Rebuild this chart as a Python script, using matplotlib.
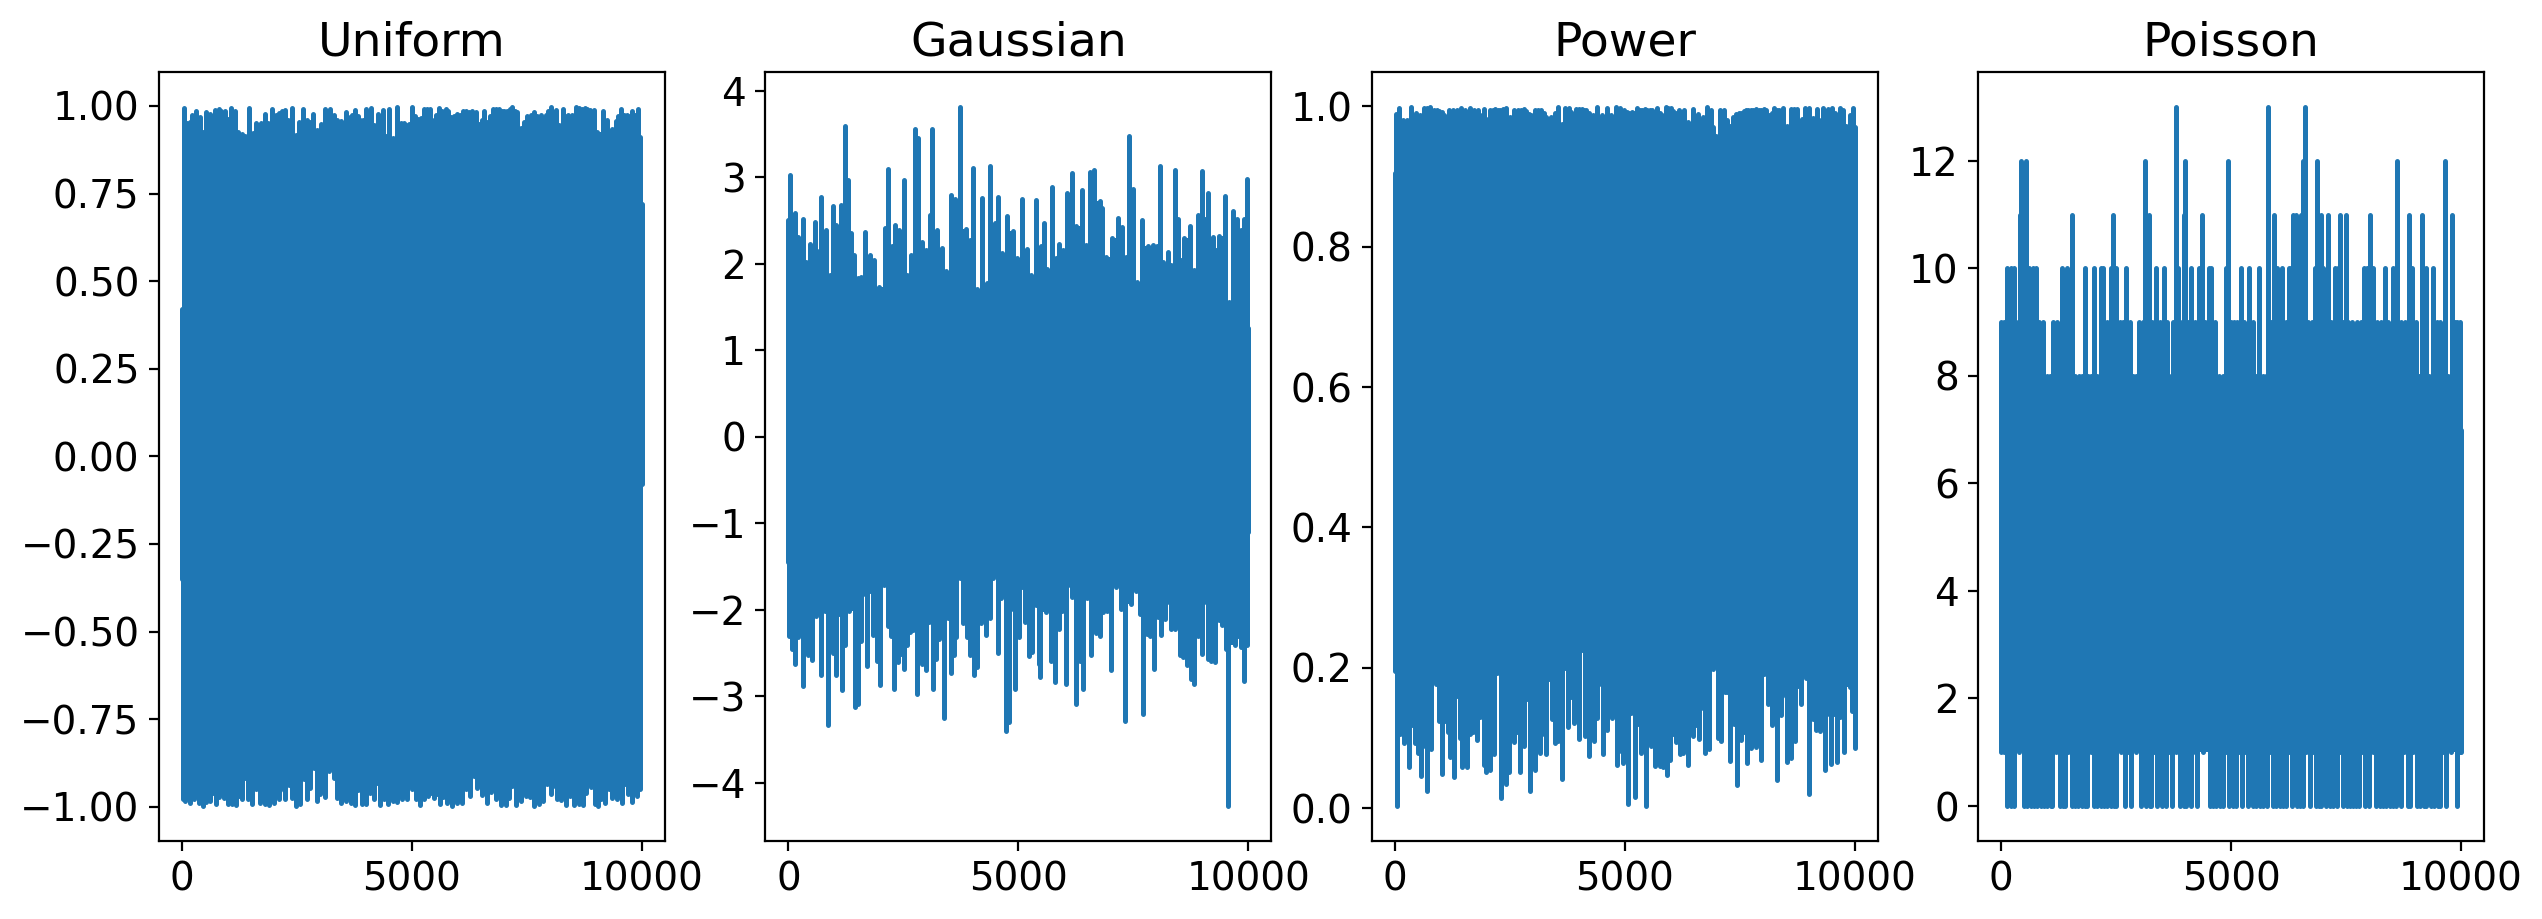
import numpy as np
import matplotlib
matplotlib.use("Agg")
import matplotlib.pyplot as plt

titles = ["Uniform", "Gaussian", "Power", "Poisson"]

# outline of each noise trace as (sample index, value)
uniform_hi = [(0,.42),(36,.995),(109,.95),(181,.954),(225,.975),(312,.986),(385,.969),(457,.926),(523,.983),(617,.978),(711,.988),(798,.990),(856,.986),(943,.985),(994,.964),(1074,.994),(1161,.986),(1219,.926),(1306,.921),(1379,.914),(1459,.995),(1538,.924),(1618,.950),(1720,.952),(1814,.978),(1880,.950),(1959,.991),(2039,.973),(2119,.981),(2177,.985),(2235,.988),(2308,.959),(2395,.994),(2475,.916),(2547,.954),(2634,.991),(2721,.959),(2787,.955),(2852,.978),(2939,.931),(3026,.947),(3106,.991),(3208,.991),(3302,.973),(3375,.959),(3462,.956),(3556,.983),(3643,.969),(3708,.975),(3773,.988),(3830,.97),(3882,.959),(3940,.96),(3991,.992),(4050,.975),(4115,.994),(4180,.945),(4260,.978),(4361,.988),(4427,.914),(4492,.991),(4594,.907),(4681,.997),(4768,.95),(4820,.95),(4877,.945),(4940,.948),(5007,.997),(5070,.97),(5138,.964),(5200,.965),(5261,.991),(5326,.99),(5392,.991),(5479,.959),(5530,.975),(5588,.994),(5660,.985),(5733,.991),(5795,.985),(5856,.969),(5920,.97),(5987,.978),(6050,.975),(6110,.985),(6175,.985),(6241,.983),(6315,.985),(6386,.983),(6459,.947),(6515,.96),(6568,.985),(6640,.953),(6705,.97),(6771,.992),(6830,.992),(6894,.992),(6950,.985),(7003,.985),(7065,.985),(7125,.99),(7184,.996),(7240,.985),(7293,.983),(7380,.937),(7445,.955),(7511,.972),(7585,.975),(7656,.983),(7730,.97),(7801,.975),(7838,.916),(7910,.973),(7970,.985),(8034,.997),(8135,.988),(8200,.945),(8288,.992),(8340,.97),(8397,.973),(8480,.975),(8563,.997),(8630,.995),(8695,.99),(8759,.995),(8815,.99),(8875,.988),(8962,.988),(9035,.926),(9158,.985),(9253,.959),(9347,.933),(9434,.956),(9490,.97),(9543,.992),(9610,.975),(9673,.973),(9735,.97),(9797,.985),(9860,.975),(9920,.992),(9960,.912),(9999,.72)]
uniform_lo = [(0,-.35),(15,-.979),(73,-.984),(167,-.990),(269,-.979),(363,-.988),(450,-.997),(530,-.986),(617,-.984),(675,-.960),(740,-.993),(813,-.972),(849,-.946),(907,-.974),(994,-.991),(1089,-.991),(1125,-.965),(1183,-.996),(1248,-.969),(1306,-.977),(1372,-.919),(1430,-.977),(1524,-.991),(1618,-.950),(1705,-.990),(1807,-.991),(1887,-.995),(1996,-.988),(2105,-.979),(2213,-.953),(2250,-.977),(2329,-.938),(2395,-.974),(2482,-.997),(2576,-.993),(2649,-.922),(2721,-.979),(2794,-.946),(2866,-.889),(2939,-.984),(3012,-.965),(3120,-.972),(3200,-.898),(3251,-.834),(3302,-.917),(3375,-.976),(3462,-.988),(3556,-.984),(3665,-.988),(3759,-.995),(3832,-.952),(3904,-.993),(4006,-.993),(4078,-.960),(4173,-.977),(4238,-.931),(4303,-.996),(4390,-.979),(4478,-.991),(4586,-.984),(4681,-.986),(4790,-.979),(4898,-.979),(5007,-.950),(5080,-.979),(5174,-.996),(5261,-.979),(5348,-.969),(5406,-.960),(5479,-.976),(5551,-.965),(5609,-.991),(5682,-.972),(5769,-.988),(5864,-.998),(5987,-.988),(6096,-.988),(6168,-.950),(6255,-.969),(6350,-.912),(6422,-.946),(6531,-.967),(6626,-.988),(6713,-.957),(6821,-.979),(6930,-.996),(7039,-.996),(7112,-.974),(7184,-.941),(7257,-.996),(7366,-.984),(7475,-.969),(7569,-.972),(7656,-.998),(7765,-.993),(7859,-.984),(7946,-.936),(8034,-.965),(8106,-.941),(8164,-.979),(8251,-.982),(8345,-.996),(8433,-.969),(8527,-.996),(8636,-.991),(8730,-.996),(8795,-.960),(8904,-.944),(8977,-.991),(9057,-.998),(9122,-.979),(9202,-.988),(9289,-.950),(9361,-.974),(9470,-.979),(9579,-.988),(9637,-.934),(9703,-.965),(9797,-.986),(9891,-.969),(9960,-.950),(9999,-.08)]

gaussian_hi = [(0,2.5),(36,3.02),(138,2.59),(210,2.31),(312,2.52),(384,2.02),(464,2.23),(572,2.48),(630,2.14),(710,2.77),(819,2.39),(898,1.87),(978,2.66),(1036,2.45),(1138,2.68),(1225,3.59),(1297,2.97),(1355,2.35),(1427,2.10),(1514,1.83),(1572,1.85),(1659,2.37),(1775,2.10),(1869,2.04),(1978,1.73),(2094,2.41),(2174,3.09),(2246,2.20),(2311,2.45),(2406,2.39),(2507,2.97),(2587,1.87),(2659,2.10),(2753,3.55),(2826,3.45),(2898,2.25),(2993,2.16),(3072,2.56),(3130,3.55),(3239,2.39),(3340,2.18),(3420,1.91),(3529,2.79),(3630,2.75),(3739,3.81),(3855,2.40),(3942,2.27),(4014,3.11),(4108,1.71),(4210,2.76),(4311,1.77),(4384,3.13),(4485,2.47),(4565,2.77),(4645,2.12),(4761,2.55),(4884,2.38),(4964,2.06),(5080,2.75),(5195,2.17),(5268,1.87),(5377,2.74),(5485,2.20),(5558,2.47),(5630,1.94),(5732,2.89),(5811,2.06),(5877,2.23),(5963,2.16),(6065,2.81),(6159,3.05),(6253,2.43),(6391,2.85),(6471,2.21),(6558,3.06),(6652,3.08),(6768,2.72),(6811,2.64),(6906,2.08),(7036,2.30),(7159,2.53),(7246,2.42),(7333,2.08),(7406,3.48),(7500,2.86),(7572,1.79),(7695,2.50),(7811,2.20),(7934,2.22),(8007,2.20),(8079,3.13),(8152,2.02),(8203,1.71),(8261,2.13),(8326,1.98),(8398,3.08),(8471,2.52),(8529,2.04),(8601,2.30),(8731,2.43),(8818,1.93),(8905,2.56),(8985,3.07),(9065,2.52),(9130,2.81),(9224,2.31),(9290,2.16),(9362,2.32),(9492,2.78),(9579,1.56),(9673,2.61),(9753,2.51),(9833,2.39),(9905,2.52),(9970,2.98),(9999,1.25)]
gaussian_lo = [(0,-1.45),(14,-2.30),(87,-2.45),(138,-2.63),(210,-2.32),(312,-2.88),(377,-2.34),(428,-2.52),(514,-2.58),(594,-2.07),(717,-2.76),(790,-2.01),(870,-3.33),(971,-2.50),(1043,-2.75),(1109,-2.05),(1167,-2.93),(1239,-2.41),(1312,-2.01),(1449,-3.12),(1522,-3.09),(1572,-2.36),(1630,-1.82),(1710,-2.65),(1775,-1.79),(1833,-2.29),(1898,-2.20),(1935,-2.59),(2000,-2.87),(2080,-1.72),(2167,-2.19),(2224,-2.30),(2297,-2.92),(2384,-2.61),(2442,-2.51),(2514,-2.69),(2572,-2.41),(2645,-2.26),(2717,-2.24),(2804,-2.97),(2906,-2.63),(2993,-2.70),(3065,-2.14),(3145,-2.92),(3210,-2.57),(3282,-2.34),(3391,-3.25),(3478,-2.10),(3543,-2.73),(3601,-2.53),(3652,-2.32),(3725,-1.64),(3804,-2.16),(3877,-2.32),(3949,-2.52),(4036,-2.76),(4108,-2.66),(4181,-2.16),(4304,-2.29),(4384,-2.10),(4456,-1.64),(4558,-2.50),(4630,-1.87),(4739,-3.40),(4797,-3.30),(4848,-1.99),(4927,-2.92),(5014,-2.32),(5072,-1.74),(5145,-2.14),(5232,-2.54),(5304,-2.49),(5377,-1.95),(5449,-2.63),(5478,-2.78),(5594,-2.03),(5703,-2.59),(5797,-2.84),(5884,-2.22),(5956,-2.01),(6043,-2.86),(6116,-1.72),(6174,-1.85),(6246,-3.09),(6333,-2.59),(6413,-2.92),(6485,-1.87),(6587,-2.52),(6681,-2.27),(6768,-2.30),(6847,-2.03),(6920,-2.01),(7022,-2.70),(7116,-1.74),(7224,-1.99),(7326,-3.29),(7456,-1.93),(7550,-1.78),(7645,-2.05),(7710,-3.21),(7804,-2.28),(7862,-2.30),(7956,-2.69),(8036,-2.09),(8108,-2.29),(8181,-2.11),(8224,-1.91),(8311,-2.22),(8398,-2.22),(8507,-2.53),(8587,-2.55),(8659,-2.64),(8746,-2.80),(8826,-2.86),(8913,-2.30),(8992,-2.51),(9072,-1.91),(9123,-2.57),(9195,-2.59),(9282,-2.60),(9362,-2.12),(9435,-2.18),(9507,-2.45),(9565,-4.27),(9703,-2.41),(9768,-2.30),(9833,-2.43),(9898,-2.82),(9975,-2.41),(9999,-1.1)]

power_hi = [(0,.905),(22,.989),(94,.998),(174,.981),(262,.980),(349,.999),(407,.975),(465,.991),(538,.987),(625,.997),(698,.998),(770,.999),(843,.995),(916,.994),(970,.993),(1025,.992),(1076,.987),(1170,.995),(1264,.995),(1352,.994),(1446,.998),(1533,.994),(1628,.998),(1715,.995),(1802,.994),(1860,.987),(1933,.996),(1991,.982),(2078,.994),(2133,.995),(2187,.996),(2240,.995),(2296,.995),(2360,.996),(2427,.998),(2500,.984),(2587,.994),(2682,.994),(2745,.995),(2805,.996),(2860,.993),(2914,.989),(2965,.988),(3059,.995),(3120,.995),(3183,.995),(3240,.99),(3292,.984),(3386,.984),(3474,.991),(3554,.999),(3626,.975),(3692,.998),(3786,.998),(3840,.992),(3895,.989),(3950,.996),(4004,.996),(4060,.996),(4113,.995),(4165,.994),(4222,.991),(4309,.987),(4389,.999),(4455,.975),(4513,.987),(4607,.998),(4695,.988),(4804,.999),(4898,.998),(4985,.994),(5040,.992),(5094,.991),(5150,.992),(5203,.991),(5276,.998),(5330,.995),(5385,.994),(5440,.996),(5494,.995),(5550,.995),(5603,.994),(5697,.998),(5760,.99),(5821,.987),(5894,.999),(5950,.997),(6003,.998),(6060,.993),(6112,.991),(6184,.994),(6240,.992),(6293,.994),(6380,.977),(6475,.996),(6584,.989),(6640,.98),(6693,.984),(6787,.999),(6875,.994),(6930,.97),(6984,.958),(7078,.994),(7165,.995),(7230,.98),(7296,.972),(7360,.985),(7420,.989),(7475,.99),(7529,.991),(7585,.993),(7638,.995),(7690,.995),(7747,.994),(7800,.995),(7856,.996),(7910,.994),(7965,.994),(8020,.996),(8074,.994),(8146,.987),(8200,.99),(8255,.997),(8310,.995),(8364,.994),(8452,.998),(8524,.972),(8619,.996),(8685,.996),(8750,.996),(8851,.982),(8924,.997),(9018,.998),(9105,.983),(9186,.996),(9258,.980),(9309,.998),(9418,.996),(9505,.998),(9578,.991),(9672,.997),(9745,.994),(9818,.972),(9890,.987),(9963,.998),(9999,.97)]
power_lo = [(0,.55),(12,.196),(44,.003),(116,.106),(196,.093),(298,.059),(378,.119),(429,.093),(494,.079),(560,.046),(618,.089),(705,.025),(785,.084),(843,.205),(894,.177),(952,.124),(1017,.049),(1090,.124),(1148,.109),(1199,.073),(1279,.044),(1359,.160),(1424,.100),(1468,.058),(1570,.059),(1642,.105),(1700,.109),(1780,.097),(1860,.130),(1940,.062),(1991,.052),(2078,.054),(2151,.077),(2216,.193),(2311,.014),(2420,.034),(2493,.052),(2587,.094),(2652,.108),(2725,.052),(2820,.089),(2878,.155),(2943,.024),(3045,.055),(3147,.079),(3205,.105),(3285,.077),(3350,.184),(3408,.127),(3488,.093),(3554,.095),(3634,.042),(3699,.199),(3757,.115),(3822,.158),(3895,.122),(4004,.099),(4070,.225),(4128,.103),(4215,.074),(4331,.096),(4404,.129),(4476,.177),(4527,.077),(4622,.112),(4724,.128),(4767,.148),(4825,.062),(4883,.082),(4963,.065),(5065,.006),(5145,.136),(5225,.016),(5290,.120),(5363,.078),(5472,.003),(5574,.089),(5654,.060),(5705,.146),(5770,.060),(5843,.058),(5915,.047),(5988,.069),(6046,.106),(6112,.094),(6199,.077),(6264,.079),(6315,.184),(6381,.061),(6475,.103),(6540,.119),(6606,.099),(6693,.142),(6751,.079),(6831,.084),(6925,.198),(7020,.100),(7100,.096),(7173,.165),(7216,.166),(7296,.067),(7383,.120),(7434,.033),(7536,.097),(7601,.109),(7659,.065),(7747,.086),(7856,.087),(7914,.150),(7972,.068),(8037,.191),(8110,.149),(8212,.119),(8306,.040),(8401,.133),(8430,.160),(8524,.066),(8619,.072),(8713,.096),(8771,.174),(8837,.149),(8938,.185),(9004,.020),(9098,.127),(9164,.112),(9244,.110),(9302,.134),(9353,.054),(9433,.134),(9484,.063),(9549,.134),(9622,.066),(9680,.130),(9774,.080),(9890,.172),(9949,.138),(9999,.085)]

poisson_hi = [(0,9),(65,9),(130,10),(203,10),(268,10),(326,9),(406,11),(435,12),(493,10),(543,12),(601,10),(688,10),(761,10),(826,9),(906,9),(993,8),(1065,8),(1123,9),(1210,9),(1312,10),(1370,9),(1435,10),(1485,9),(1536,11),(1609,8),(1688,8),(1761,8),(1811,10),(1884,8),(1956,8),(2022,10),(2080,8),(2159,10),(2210,10),(2297,9),(2384,10),(2435,11),(2493,10),(2587,9),(2645,9),(2703,10),(2790,9),(2855,8),(2927,8),(3007,9),(3080,9),(3116,12),(3203,11),(3275,9),(3369,10),(3457,9),(3543,10),(3601,9),(3659,8),(3732,9),(3790,13),(3840,10),(3891,9),(3971,11),(4007,12),(4065,9),(4137,10),(4217,9),(4297,10),(4377,11),(4442,9),(4514,10),(4572,10),(4652,9),(4746,8),(4833,8),(4891,10),(4927,12),(4992,9),(5065,9),(5138,9),(5225,10),(5290,9),(5384,10),(5471,9),(5536,8),(5616,10),(5688,8),(5753,8),(5811,13),(5869,9),(5934,11),(5992,10),(6050,9),(6116,10),(6188,9),(6253,10),(6310,10),(6355,11),(6413,11),(6463,10),(6514,11),(6572,12),(6608,13),(6681,9),(6753,9),(6825,10),(6876,12),(6949,11),(7007,10),(7108,11),(7166,9),(7261,10),(7318,10),(7369,11),(7442,9),(7500,11),(7550,9),(7623,9),(7674,8),(7746,9),(7819,9),(7898,10),(7963,10),(8014,11),(8079,10),(8166,9),(8261,9),(8347,10),(8420,9),(8522,10),(8608,12),(8688,9),(8782,9),(8869,11),(8942,10),(9021,9),(9094,8),(9145,11),(9239,10),(9297,8),(9398,10),(9471,9),(9543,9),(9659,12),(9724,8),(9804,11),(9869,9),(9920,9),(9978,9),(9999,7)]
poisson_lo = [(0,1),(50,1),(130,0),(203,0),(283,0),(384,1),(493,0),(565,0),(638,0),(710,0),(783,0),(855,0),(927,0),(1000,0),(1072,0),(1109,0),(1188,1),(1268,0),(1341,0),(1384,0),(1456,1),(1529,0),(1601,0),(1674,0),(1746,0),(1819,0),(1869,0),(1942,1),(2014,0),(2087,0),(2159,0),(2232,0),(2304,0),(2377,0),(2449,0),(2500,0),(2594,1),(2696,0),(2761,1),(2826,0),(2927,1),(3036,0),(3101,1),(3159,0),(3232,0),(3268,0),(3319,1),(3384,0),(3442,1),(3500,0),(3594,0),(3645,1),(3710,0),(3804,1),(3898,0),(3971,0),(4029,0),(4079,1),(4130,0),(4181,1),(4253,0),(4398,1),(4536,0),(4608,0),(4681,0),(4753,0),(4826,0),(4891,1),(4964,0),(5036,0),(5116,0),(5166,1),(5232,0),(5297,1),(5362,0),(5420,1),(5478,0),(5551,0),(5623,0),(5695,0),(5789,0),(5847,1),(5913,0),(5985,0),(6058,0),(6130,0),(6203,0),(6268,1),(6326,0),(6376,1),(6434,0),(6507,0),(6565,0),(6637,1),(6717,0),(6782,1),(6847,0),(6920,0),(6963,0),(7014,1),(7072,0),(7145,0),(7217,0),(7304,0),(7369,1),(7442,0),(7514,0),(7587,0),(7659,0),(7717,0),(7775,0),(7847,1),(7920,0),(8000,0),(8079,1),(8159,0),(8232,0),(8304,0),(8376,0),(8449,0),(8522,0),(8594,0),(8688,0),(8760,1),(8840,0),(8884,0),(8963,1),(9043,0),(9116,0),(9188,0),(9246,0),(9297,1),(9347,0),(9420,0),(9492,0),(9550,0),(9616,1),(9681,0),(9790,1),(9905,0),(9978,1),(9999,1)]

series = [(uniform_hi, uniform_lo), (gaussian_hi, gaussian_lo), (power_hi, power_lo), (poisson_hi, poisson_lo)]

plt.rcParams["font.size"] = 14
plt.rcParams["axes.titlesize"] = 17

fig, axes = plt.subplots(1, 4, figsize=(12.71, 4.595), dpi=200)
fig.subplots_adjust(left=159 / 2542, right=2484 / 2542, bottom=1 - 841 / 919, top=1 - 72 / 919, wspace=0.199)

for ax, title, (hi, lo) in zip(axes, titles, series):
    hi = np.array(sorted(hi), dtype=float)
    lo = np.array(sorted(lo), dtype=float)
    mid = (hi[:, 1].min() + lo[:, 1].max()) / 2

    # strokes from the middle of the band out to each read value, round tips like the line joins
    ax.vlines(hi[:, 0], mid, hi[:, 1], color="C0", lw=1.8, capstyle="round")
    ax.vlines(lo[:, 0], lo[:, 1], mid, color="C0", lw=1.8, capstyle="round")

    # close the slits between neighbouring strokes, up to the lower of the two
    hi_step = np.append(np.minimum(hi[:-1, 1], hi[1:, 1]), hi[-1, 1])
    lo_step = np.append(np.maximum(lo[:-1, 1], lo[1:, 1]), lo[-1, 1])
    ax.fill_between(hi[:, 0], mid, hi_step, step="post", color="C0", lw=0)
    ax.fill_between(lo[:, 0], lo_step, mid, step="post", color="C0", lw=0)

    ax.set_title(title)

plt.savefig("out.png", dpi=200)
